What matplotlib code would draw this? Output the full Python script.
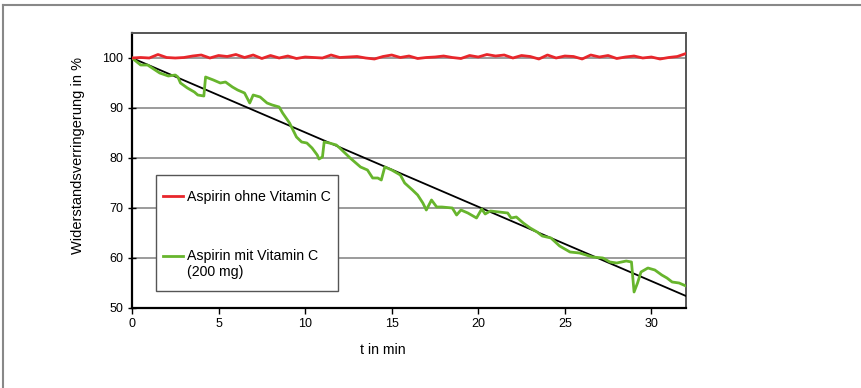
import numpy as np
import matplotlib.pyplot as plt
from matplotlib.lines import Line2D
from matplotlib.patches import Rectangle
from matplotlib.legend_handler import HandlerLine2D

# time axis of the red series (every 0.5 min)
t_red = np.arange(0, 32.5, 0.5)
v_red = [100.0, 100.1, 100.0, 100.7, 100.1, 100.0, 100.1, 100.4, 100.6, 100.0,
         100.5, 100.3, 100.7, 100.1, 100.6, 99.9, 100.5, 100.0, 100.4, 99.9,
         100.2, 100.1, 100.0, 100.6, 100.1, 100.2, 100.3, 100.0, 99.8, 100.3,
         100.6, 100.1, 100.4, 99.9, 100.1, 100.2, 100.4, 100.1, 99.9, 100.5,
         100.2, 100.7, 100.4, 100.6, 100.0, 100.5, 100.3, 99.8, 100.6, 100.0,
         100.4, 100.3, 99.8, 100.6, 100.2, 100.5, 99.9, 100.2, 100.4, 100.0,
         100.2, 99.8, 100.1, 100.3, 100.9]

t_green = [0.0, 0.5, 0.9, 1.6, 2.1, 2.5, 2.65, 2.8, 3.2, 3.6, 3.8, 4.15, 4.25,
           4.7, 5.1, 5.4, 5.8, 6.1, 6.5, 6.8, 7.0, 7.4, 7.8, 8.1, 8.5, 8.7, 9.1,
           9.3, 9.5, 9.8, 10.1, 10.4, 10.7, 10.8, 11.0, 11.1, 11.4, 11.8, 12.0,
           12.6, 13.2, 13.6, 13.9, 14.2, 14.4, 14.6, 15.0, 15.5, 15.75, 16.2,
           16.5, 16.8, 17.0, 17.3, 17.6, 17.9, 18.5, 18.75, 19.0, 19.4, 19.9,
           20.2, 20.4, 20.7, 21.2, 21.7, 21.9, 22.2, 22.6, 23.0, 23.4, 23.7,
           24.2, 24.7, 25.3, 25.85, 26.6, 27.2, 27.6, 28.0, 28.55, 28.85, 29.0,
           29.2, 29.4, 29.8, 30.2, 30.6, 30.9, 31.2, 31.6, 32.0]
v_green = [100.0, 98.6, 98.6, 97.0, 96.4, 96.6, 96.2, 95.0, 94.0, 93.2, 92.6,
           92.4, 96.2, 95.6, 95.0, 95.2, 94.2, 93.6, 93.0, 91.0, 92.6, 92.2,
           91.0, 90.6, 90.2, 89.0, 87.0, 85.6, 84.2, 83.2, 83.0, 82.0, 80.6,
           79.8, 80.2, 83.2, 83.0, 82.6, 82.0, 80.0, 78.2, 77.6, 76.0, 76.0,
           75.6, 78.2, 77.6, 76.6, 75.0, 73.6, 72.6, 71.0, 69.6, 71.6, 70.2,
           70.2, 70.0, 68.6, 69.6, 69.0, 68.0, 69.8, 68.8, 69.4, 69.2, 69.0,
           68.0, 68.2, 67.0, 66.0, 65.2, 64.4, 64.0, 62.4, 61.2, 61.0, 60.2,
           60.0, 59.2, 59.0, 59.4, 59.2, 53.2, 55.0, 57.2, 58.0, 57.6, 56.6,
           56.0, 55.2, 55.0, 54.4]

# linear trend line (endpoints)
t_trend = [0, 32]
v_trend = [100, 52.4]

red = '#e8262b'
green = '#67b52d'
LEG_FS = 10.2


class HandlerFirstLine(HandlerLine2D):
    # put the legend line next to the first text line of a two-line label
    def create_artists(self, legend, orig_handle, xdescent, ydescent,
                       width, height, fontsize, trans):
        arts = super().create_artists(legend, orig_handle, xdescent, ydescent,
                                      width, height, fontsize, trans)
        for a in arts:
            a.set_ydata(np.asarray(a.get_ydata()) + fontsize * 0.6)
        return arts


plt.rcParams['font.family'] = ['Liberation Sans', 'DejaVu Sans']

fig = plt.figure(figsize=(8.62, 3.88), dpi=100)
ax = fig.add_axes([132 / 862, 1 - 308 / 388, 554 / 862, 275 / 388])

for y in [60, 70, 80, 90, 100]:
    ax.axhline(y, color='#8a8a8a', lw=1.2, zorder=1)

ax.plot(t_trend, v_trend, color='black', lw=1.3, zorder=3)
green_line, = ax.plot(t_green, v_green, color=green, lw=2, zorder=4)
red_line, = ax.plot(t_red, v_red, color=red, lw=2, zorder=5)

ax.set_xlim(0, 32)
ax.set_ylim(50, 105)
ax.set_xticks(range(0, 35, 5))
ax.set_yticks(range(50, 105, 10))
ax.tick_params(labelsize=9, length=4, width=1, color='black')
ax.tick_params(axis='y', direction='inout', length=6)

for s in ['left', 'bottom']:
    ax.spines[s].set_linewidth(1.6)
    ax.spines[s].set_color('black')
for s in ['top', 'right']:
    ax.spines[s].set_linewidth(1.4)
    ax.spines[s].set_color('#555555')

ax.set_xlabel('t in min', fontsize=10.2)
ax.xaxis.set_label_coords(0.453, -0.128)
ax.set_ylabel('Widerstandsverringerung in %', fontsize=10.5)
ax.yaxis.set_label_coords(-0.085, 0.556)

# legend box
ax.add_patch(Rectangle((0.043, 0.062), 0.329, 0.422, transform=ax.transAxes,
                       facecolor='white', edgecolor='#555555', lw=1.0,
                       zorder=6))
leg = ax.legend([red_line, green_line],
                ['Aspirin ohne Vitamin C', 'Aspirin mit Vitamin C\n(200 mg)'],
                handler_map={green_line: HandlerFirstLine()},
                loc='upper left', bbox_to_anchor=(0.056, 0.429),
                borderaxespad=0, borderpad=0, frameon=False,
                fontsize=LEG_FS, handlelength=1.4, handletextpad=0.3,
                labelspacing=3.15)
leg.set_zorder(7)

# outer frame (top and left edges visible)
fig.add_artist(Line2D([3 / 862, 1], [1 - 5 / 388] * 2, color='#888888', lw=1.5))
fig.add_artist(Line2D([3 / 862] * 2, [0, 1 - 5 / 388], color='#888888', lw=1.5))

fig.savefig('out.png', dpi=100)
